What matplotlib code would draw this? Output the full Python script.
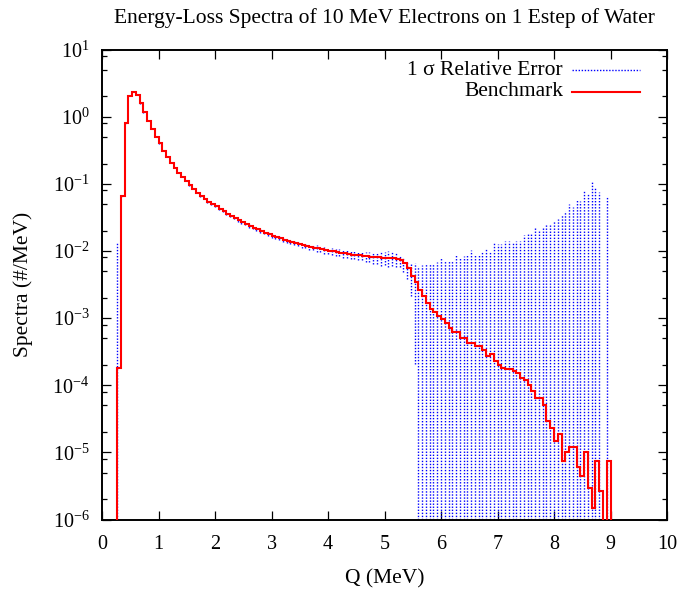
import numpy as np
import matplotlib
matplotlib.use("Agg")
import matplotlib.pyplot as plt
from matplotlib.ticker import FixedLocator, FuncFormatter, NullFormatter

plt.rcParams["font.family"] = ["Liberation Serif", "DejaVu Serif"]
plt.rcParams["mathtext.fontset"] = "custom"
plt.rcParams["mathtext.rm"] = "Liberation Serif"
plt.rcParams["mathtext.it"] = "Liberation Serif:italic"

# Energy-loss histogram: 150 bins of 1/15 MeV over 0-10 MeV
n_bins = 150
q_max = 10.0
first_bin = 4

# Spectrum (#/MeV) for bins 4 .. 134
spectrum_values = [
    1.8e-4, 0.066, 0.80, 2.03, 2.36, 2.10, 1.58, 1.16, 0.87, 0.65,
    0.50, 0.40, 0.31, 0.253, 0.206, 0.174, 0.146, 0.127, 0.111, 0.096,
    0.084, 0.074, 0.066, 0.060, 0.054, 0.050, 0.046, 0.042, 0.039, 0.035,
    0.033, 0.031, 0.0285, 0.0268, 0.0252, 0.0236, 0.0222, 0.0210, 0.0198, 0.0188,
    0.0177, 0.0168, 0.0160, 0.0155, 0.0147, 0.0141, 0.0136, 0.0132, 0.0127, 0.0123,
    0.0119, 0.0116, 0.0112, 0.0109, 0.0106, 0.0103, 0.0101, 0.0099, 0.0096, 0.0094,
    0.0092, 0.0090, 0.0088, 0.0087, 0.0086, 0.0085, 0.0083, 0.0082, 0.0081, 0.0080,
    0.0079, 0.0079, 0.0078, 0.0078, 0.0077, 0.0073, 0.0065, 0.0055, 0.0042, 0.0034,
    0.0026, 0.0021, 0.00166, 0.00136, 0.00122, 0.00107, 0.00097, 0.00084, 0.00072, 0.00063,
    0.00063, 0.00051, 0.00051, 0.00042, 0.00042, 0.00038, 0.00038, 0.00033, 0.00027, 0.00029,
    0.00023, 0.00020, 1.82e-4, 1.74e-4, 1.74e-4, 1.62e-4, 1.50e-4, 1.26e-4, 1.19e-4, 1.01e-4,
    8.3e-5, 6.5e-5, 6.5e-5, 5.1e-5, 2.96e-5, 2.34e-5, 1.47e-5, 1.9e-5, 7.4e-6, 1.02e-5,
    1.19e-5, 1.19e-5, 6.0e-6, 4.5e-6, 1.02e-5, 2.95e-6, 1.47e-6, 7.4e-6, 2.7e-6, 0.0,
    7.4e-6,
]

# One-sigma relative error for the same bins
rel_error_values = [
    71.0, 0.05, 0.02, 0.01, 0.01, 0.01, 0.01, 0.01, 0.01, 0.01,
    0.01, 0.01, 0.01, 0.012, 0.012, 0.014, 0.014, 0.015, 0.016, 0.018,
    0.02, 0.02, 0.022, 0.025, 0.03, 0.03, 0.032, 0.03, 0.035, 0.033,
    0.035, 0.04, 0.05, 0.045, 0.05, 0.055, 0.05, 0.06, 0.055, 0.06,
    0.065, 0.07, 0.06, 0.075, 0.07, 0.08, 0.07, 0.085, 0.08, 0.09,
    0.085, 0.10, 0.09, 0.11, 0.10, 0.12, 0.10, 0.11, 0.13, 0.12,
    0.14, 0.13, 0.15, 0.14, 0.16, 0.15, 0.18, 0.17, 0.20, 0.19,
    0.25, 0.22, 0.26, 0.24, 0.25, 0.20, 0.26, 0.30, 0.50, 0.94,
    1.3, 1.9, 2.8, 3.9, 4.4, 5.5, 7.5, 7.6, 9.3, 10.6,
    12.7, 14.7, 15.7, 20.0, 23.5, 23.0, 22.0, 28.0, 40.0, 33.5,
    55.5, 61.5, 69.0, 79.0, 79.0, 83.0, 94.0, 110.0, 142.0, 177.0,
    223.0, 331.0, 307.0, 430.0, 840.0, 1025.0, 1900.0, 1580.0, 4590.0, 3920.0,
    4200.0, 3780.0, 1.0e4, 1.22e4, 7840.0, 2.37e4, 7.5e4, 1.22e4, 2.78e4, 0.0,
    9.0e3,
]

x_ticks = list(range(0, 11))
y_decades = list(range(-6, 2))

q_edges = np.linspace(0.0, q_max, n_bins + 1)
spectrum = np.zeros(n_bins)
rel_error = np.zeros(n_bins)
spectrum[first_bin:first_bin + len(spectrum_values)] = spectrum_values
rel_error[first_bin:first_bin + len(rel_error_values)] = rel_error_values

fig = plt.figure(figsize=(6.85, 5.92), dpi=100)
fig.subplots_adjust(left=102 / 685, right=667 / 685,
                    bottom=(592 - 519.5) / 592, top=(592 - 49.5) / 592)
ax = fig.add_subplot(111)
ax.set_yscale("log", nonpositive="clip")

err_style = dict(color="#0000ff", linestyle=(0, (1.0, 1.2)), linewidth=1.0)

# 1-sigma error bars, drawn at each bin's left edge (steps convention)
has_data = spectrum > 0
x_left = q_edges[:-1][has_data]
v = spectrum[has_data]
r = rel_error[has_data]
ax.vlines(x_left, v * (1 - r), v * (1 + r), colors=err_style["color"],
          linestyles=err_style["linestyle"], linewidth=err_style["linewidth"],
          zorder=2)

# Benchmark histogram
lo, hi = first_bin - 1, first_bin + len(spectrum_values) + 1
ax.stairs(spectrum[lo:hi], q_edges[lo:hi + 1], baseline=None,
          color="#ff0000", linewidth=1.5, zorder=3)

ax.set_xlim(0, 10)
ax.set_ylim(1e-6, 1e1)

ax.xaxis.set_major_locator(FixedLocator(x_ticks))
ax.yaxis.set_major_locator(FixedLocator([10.0 ** d for d in y_decades]))
ax.yaxis.set_minor_locator(FixedLocator(
    [m * 10.0 ** d for d in range(-6, 1) for m in (2, 5, 8)]))
ax.yaxis.set_minor_formatter(NullFormatter())
ax.yaxis.set_major_formatter(FuncFormatter(
    lambda val, pos: r"$\mathregular{10^{%d}}$" % int(round(np.log10(val)))))

ax.tick_params(which="both", direction="in", top=True, right=True,
               width=0.9, colors="black")
ax.tick_params(which="major", length=6.5, labelsize=14.5)
ax.tick_params(which="minor", length=3.5)
ax.tick_params(axis="y", which="major", pad=9)
ax.tick_params(axis="x", which="major", pad=11)
for sp in ax.spines.values():
    sp.set_linewidth(1.4)

text_size = 15.5
ax.set_xlabel("Q (MeV)", fontsize=text_size, labelpad=11)
ax.set_ylabel("Spectra (#/MeV)", fontsize=text_size, labelpad=14)
ax.set_title("Energy-Loss Spectra of 10 MeV Electrons on 1 Estep of Water",
             fontsize=text_size, pad=19)

# Key in the upper right corner
key_rows = [("1 \u03c3 Relative Error", err_style, 0.956),
            ("Benchmark", dict(color="#ff0000", linewidth=1.5), 0.910)]
for label, style, yk in key_rows:
    ax.text(0.816, yk, label, transform=ax.transAxes, ha="right",
            va="center", fontsize=text_size)
    ax.plot([0.832, 0.952], [yk, yk], transform=ax.transAxes, **style)

fig.savefig("out.png", dpi=100)
